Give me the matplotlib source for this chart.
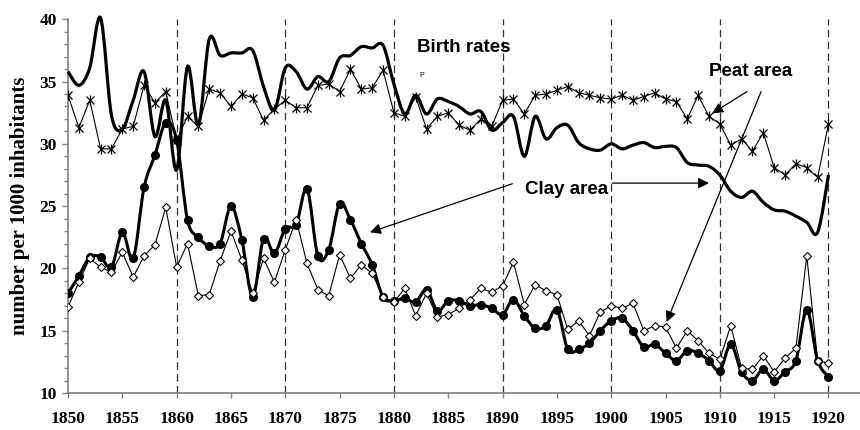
import numpy as np
import matplotlib
matplotlib.use('Agg')
from matplotlib import pyplot as plt
from matplotlib.path import Path
from matplotlib.patches import PathPatch

years = np.arange(1850, 1921)

# birth rates
clay_birth = [35.8, 34.7, 36.1, 40.1, 32.3, 31.2, 33.5, 35.8, 30.6, 33.5,
              27.9, 36.2, 31.5, 38.4, 37.1, 37.3, 37.3, 37.5, 34.6, 32.7,
              36.1, 35.8, 34.4, 35.4, 35.0, 36.9, 37.1, 37.8, 37.7, 37.9,
              34.8, 32.4, 33.9, 32.4, 33.6, 33.4, 33.0, 32.4, 32.6, 31.1,
              31.7, 32.2, 29.0, 32.2, 30.4, 31.3, 31.5, 30.1, 29.6, 29.5,
              30.0, 29.6, 29.9, 30.1, 29.7, 29.8, 29.7, 28.5, 28.3, 28.2,
              27.5, 26.2, 25.7, 26.2, 25.3, 24.7, 24.6, 24.2, 23.7, 22.9,
              27.5]
peat_birth = [33.9, 31.3, 33.5, 29.6, 29.6, 31.2, 31.4, 34.7, 33.3, 34.2,
              30.3, 32.2, 31.4, 34.4, 34.1, 33.0, 34.0, 33.7, 31.9, 32.8,
              33.5, 32.9, 32.9, 34.7, 34.8, 34.2, 36.0, 34.4, 34.5, 35.9,
              32.5, 32.2, 33.8, 31.2, 32.2, 32.5, 31.5, 31.1, 32.0, 31.4,
              33.5, 33.6, 32.4, 33.9, 34.0, 34.3, 34.6, 34.1, 33.9, 33.7,
              33.6, 33.9, 33.5, 33.8, 34.1, 33.6, 33.4, 32.0, 33.9, 32.2,
              31.6, 29.9, 30.4, 29.4, 30.9, 28.1, 27.5, 28.4, 28.1, 27.3,
              31.6]

# death rates
clay_death = [18.0, 19.4, 20.9, 20.9, 20.1, 22.9, 20.8, 26.5, 29.1, 31.7,
              30.3, 23.9, 22.5, 21.8, 22.0, 25.0, 22.3, 17.7, 22.4, 21.2,
              23.2, 23.5, 26.4, 21.0, 21.5, 25.2, 23.9, 22.0, 20.3, 17.7,
              17.4, 17.6, 17.3, 18.3, 16.6, 17.4, 17.4, 17.0, 17.1, 16.8,
              16.3, 17.5, 16.2, 15.2, 15.4, 16.7, 13.5, 13.5, 14.0, 15.0,
              15.8, 16.0, 15.0, 13.7, 13.9, 13.2, 12.6, 13.4, 13.2, 12.6,
              11.8, 13.9, 11.7, 11.0, 11.9, 11.0, 11.7, 12.6, 16.7, 12.6,
              11.3]
peat_death = [16.9, 18.9, 20.8, 20.1, 19.7, 21.3, 19.3, 21.0, 21.9, 24.9,
              20.1, 22.0, 17.8, 17.9, 20.6, 23.0, 20.7, 18.0, 20.8, 18.9,
              21.5, 23.9, 20.4, 18.3, 17.8, 21.1, 19.2, 20.3, 19.6, 17.7,
              17.3, 18.4, 16.2, 18.0, 16.1, 16.3, 16.8, 17.5, 18.4, 18.1,
              18.6, 20.5, 17.1, 18.7, 18.2, 17.9, 15.1, 15.8, 14.6, 16.5,
              17.0, 16.8, 17.2, 15.0, 15.4, 15.3, 13.6, 15.0, 14.2, 13.2,
              12.7, 15.4, 12.0, 11.9, 13.0, 11.7, 12.8, 13.6, 21.0, 12.6,
              12.4]


def smooth_path(x, y):
    # excel-like smoothed line through the points (cubic bezier segments)
    pts = np.column_stack([x, y]).astype(float)
    n = len(pts)
    verts = [pts[0]]
    codes = [Path.MOVETO]
    for i in range(n - 1):
        p0 = pts[i - 1] if i > 0 else pts[i]
        p1, p2 = pts[i], pts[i + 1]
        p3 = pts[i + 2] if i + 2 < n else pts[i + 1]
        verts += [p1 + (p2 - p0) / 6, p2 - (p3 - p1) / 6, p2]
        codes += [Path.CURVE4] * 3
    return Path(verts, codes)


fig = plt.figure(figsize=(8.6, 4.3), dpi=100)
ax = fig.add_axes([68 / 860, 37 / 430, 1 - 68 / 860, (393 - 19.3) / 430])

for yr in [1860, 1870, 1880, 1890, 1900, 1910, 1920]:
    ax.axvline(yr, color='#303030', lw=0.9, ls=(0, (6, 3.5)), zorder=1)

ax.add_patch(PathPatch(smooth_path(years, clay_birth), fill=False,
                       lw=2.3, ec='black', zorder=3, clip_on=False))
ax.plot(years, peat_birth, color='black', lw=0.8, marker='x', ms=6, mew=0.9, zorder=4)
ax.plot(years, peat_birth, ls='none', color='black', marker='|', ms=7, mew=0.9, zorder=4)

ax.add_patch(PathPatch(smooth_path(years, clay_death), fill=False,
                       lw=2.2, ec='black', zorder=3))
ax.plot(years, clay_death, ls='none', marker='o', ms=5.5, color='black', zorder=3)
ax.plot(years, peat_death, color='black', lw=0.8, marker='D', ms=4,
        mfc='white', mec='black', mew=0.8, zorder=4)

ax.set_xlim(1850, 1922.9)
ax.set_ylim(10, 40)
ax.set_xticks(np.arange(1850, 1921, 5))
ax.set_yticks(np.arange(10, 41, 5))
ax.set_yticks(np.arange(10, 41, 1), minor=True)

for s in ['top', 'right']:
    ax.spines[s].set_visible(False)
for s in ['left', 'bottom']:
    ax.spines[s].set_color('#808080')
    ax.spines[s].set_linewidth(1.2)
ax.tick_params(axis='both', which='both', color='#808080', width=1)
ax.tick_params(axis='y', which='major', length=4, pad=4)
ax.tick_params(axis='y', which='minor', length=3)
ax.tick_params(axis='x', which='major', length=3.5, pad=9.5)

tick_font = dict(family=['Liberation Serif', 'DejaVu Serif'], weight='bold', size=12.5)
for lab in ax.get_xticklabels() + ax.get_yticklabels():
    lab.set_fontproperties(tick_font)

ax.set_ylabel('number per 1000 inhabitants', family=['Liberation Serif', 'DejaVu Serif'],
              weight='bold', size=15)
ax.yaxis.set_label_coords(-0.048, 0.5)

note = dict(family=['Liberation Sans', 'DejaVu Sans'], weight='bold', size=13.5, va='center')
ax.text(1882.1, 37.7, 'Birth rates', ha='left', **note)
ax.text(1882.3, 35.5, 'P', ha='left', va='center', size=5,
        family=['Liberation Sans', 'DejaVu Sans'])
ax.text(1909.0, 35.8, 'Peat area', ha='left', **note)
ax.text(1892.1, 26.3, 'Clay area', ha='left', **note)

arrow = dict(arrowstyle='-|>', color='black', lw=0.9, mutation_scale=16,
             shrinkA=0, shrinkB=0)
ax.annotate('', xy=(1909.3, 32.45), xytext=(1912.5, 34.2), arrowprops=arrow)
ax.annotate('', xy=(1905.1, 15.7), xytext=(1913.8, 34.2), arrowprops=arrow)
ax.annotate('', xy=(1909.0, 26.85), xytext=(1900.1, 26.85), arrowprops=arrow)
ax.annotate('', xy=(1877.8, 22.9), xytext=(1890.9, 26.8), arrowprops=arrow)

fig.savefig('out.png', dpi=100)
